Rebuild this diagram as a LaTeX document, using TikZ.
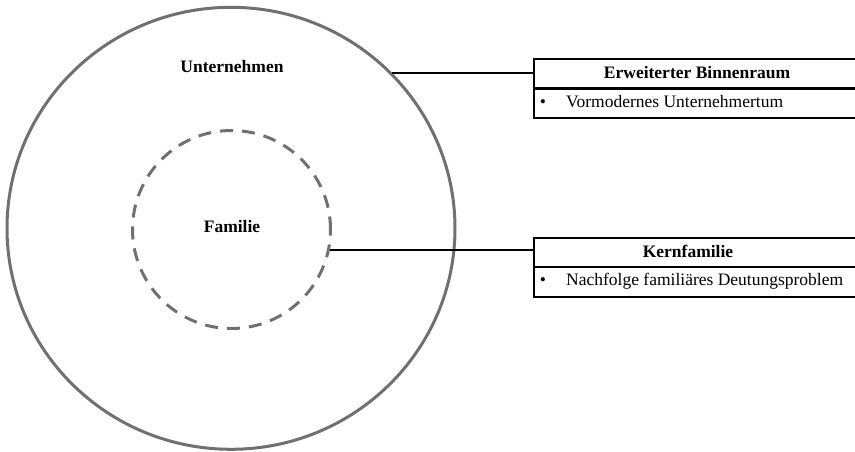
\documentclass[tikz,border=0pt]{standalone}
\usepackage{fontspec}
\setmainfont{Liberation Serif}
\usetikzlibrary{shapes.geometric}
\definecolor{ringgray}{HTML}{707070}
\begin{document}
\begin{tikzpicture}[x=1pt,y=-1pt,
  ring/.style={draw=ringgray,line width=3pt,inner sep=0pt},
  lbl/.style={font=\fontsize{17.5}{21}\selectfont\bfseries,inner sep=0pt},
  txt/.style={font=\fontsize{17.5}{21}\selectfont,inner sep=0pt},
  cell/.style={draw=black,line width=2.2pt,rectangle,minimum width=340pt,anchor=north west,inner sep=0pt},
  link/.style={draw=black,line width=2pt}]
\useasboundingbox (0,0) rectangle (855,452);
\clip (0,0) rectangle (855,452);

% nested spheres
\node[ellipse,ring,minimum width=448pt,minimum height=442pt] (outer) at (231,228.3) {};
\node[circle,ring,dash pattern=on 13pt off 9pt,minimum size=198pt] (inner) at (231.5,229.5) {};
\node[lbl] (unt) at (232,67) {Unternehmen};
\node[lbl] (fam) at (232,227) {Familie};

% upper legend box
\node[cell,minimum height=29.5pt] (h1) at (533,58) {};
\node[cell,minimum height=29.5pt] (b1) at (533,87.5) {};
\node[lbl] (t1) at (697,72.75) {Erweiterter Binnenraum};
\node[txt,anchor=base] (p1) at (543,108) {•};
\node[txt,anchor=base west] (e1) at (566,108) {Vormodernes Unternehmertum};

% lower legend box
\node[cell,minimum height=28.5pt] (h2) at (533,237) {};
\node[cell,minimum height=30pt] (b2) at (533,265.5) {};
\node[lbl] (t2) at (688,251.25) {Kernfamilie};
\node[txt,anchor=base] (p2) at (543,285.5) {•};
\node[txt,anchor=base west] (e2) at (566,285.5) {Nachfolge familiäres Deutungsproblem};

% connectors
\draw[link] (outer.44.5) -- (outer.44.5 -| h1.west);
\draw[link] (inner.-12.5) -- (inner.-12.5 -| h2.west);
\end{tikzpicture}
\end{document}
